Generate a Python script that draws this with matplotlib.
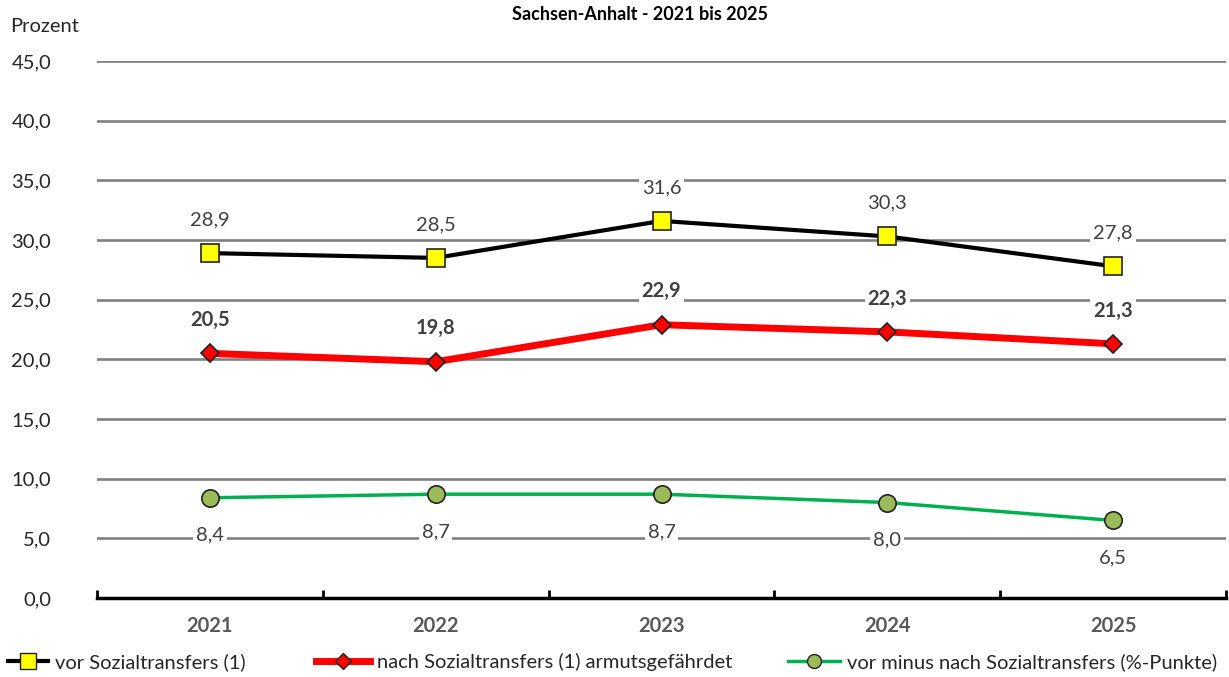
import matplotlib
matplotlib.use("Agg")
import matplotlib.pyplot as plt
from matplotlib.lines import Line2D

plt.rcParams['font.family'] = ['Lato', 'DejaVu Sans']

years = ["2021", "2022", "2023", "2024", "2025"]
vor = [28.9, 28.5, 31.6, 30.3, 27.8]
nach = [20.5, 19.8, 22.9, 22.3, 21.3]
diff = [8.4, 8.7, 8.7, 8.0, 6.5]
yticks = [0, 5, 10, 15, 20, 25, 30, 35, 40, 45]

def fmt(v):
    return f"{v:.1f}".replace(".", ",")

fig = plt.figure(figsize=(12.29, 6.77), dpi=100)
ax = fig.add_axes([97/1229, 1-598/677, (1226-97)/1229, (598-61)/677])
x = list(range(len(years)))

ax.set_xlim(-0.5, 4.5)
ax.set_ylim(0, 45)
for t in yticks[1:]:
    ax.axhline(t, color='#808080', lw=1.9, zorder=1)

ax.plot(x, vor, color='black', lw=3, marker='s', ms=13, mfc='#ffff00', mec='#222222', mew=1.2, zorder=5)
ax.plot(x, nach, color='#ff0000', lw=5, marker='D', ms=9.5, mfc='#ff0000', mec='#222222', mew=1.2, zorder=4)
ax.plot(x, diff, color='#00b050', lw=2.5, marker='o', ms=12.5, mfc='#9bbb59', mec='#222222', mew=1.2, zorder=4)

fs = 14.5
bb = dict(facecolor='white', edgecolor='none', pad=2)
for xi, v in zip(x, vor):
    ax.annotate(fmt(v), (xi, v), xytext=(0, 24), textcoords='offset points', ha='center', va='center',
                fontsize=fs, color='#404040', bbox=bb, zorder=6)
for xi, v in zip(x, nach):
    ax.annotate(fmt(v), (xi, v), xytext=(0, 24), textcoords='offset points', ha='center', va='center',
                fontsize=fs, color='#404040', fontweight='bold', bbox=bb, zorder=6)
for xi, v in zip(x, diff):
    ax.annotate(fmt(v), (xi, v), xytext=(0, -27), textcoords='offset points', ha='center', va='center',
                fontsize=fs, color='#404040', bbox=bb, zorder=6)

for s in ['top', 'right', 'left']:
    ax.spines[s].set_visible(False)
ax.spines['bottom'].set_linewidth(2.5)
ax.spines['bottom'].set_zorder(7)

ax.set_yticks(yticks)
ax.set_yticklabels([fmt(t) for t in yticks], fontsize=fs, color='#262626')
ax.tick_params(axis='y', length=0, pad=33)

ax.set_xticks([i - 0.5 for i in range(len(years) + 1)])
ax.set_xticklabels([])
ax.tick_params(axis='x', direction='in', length=6, width=2, color='black')
ax.set_xticks(x, minor=True)
ax.set_xticklabels(years, minor=True, fontsize=fs, fontweight='bold', color='#595959')
ax.tick_params(axis='x', which='minor', length=0, pad=13)

fig.text(10/1229, 1-27/677, "Prozent", fontsize=fs, color='#262626', va='center', ha='left')
fig.text(640/1229, 1-15/677, "Sachsen-Anhalt - 2021 bis 2025", fontsize=13, fontweight='bold',
         color='black', va='center', ha='center')

handles = [
    Line2D([], [], color='black', lw=3, marker='s', ms=11, mfc='#ffff00', mec='#222222'),
    Line2D([], [], color='#ff0000', lw=5, marker='D', ms=8, mfc='#ff0000', mec='#222222'),
    Line2D([], [], color='#00b050', lw=2.5, marker='o', ms=10, mfc='#9bbb59', mec='#222222'),
]
labels = ["vor Sozialtransfers (1)", "nach Sozialtransfers (1) armutsgefährdet",
          "vor minus nach Sozialtransfers (%-Punkte)"]
starts = [8, 316, 788]
hlens = [2.0, 2.7, 2.6]
for h, l, s, hl in zip(handles, labels, starts, hlens):
    fig.legend([h], [l], loc='center left', bbox_to_anchor=(s/1229, 1-662/677),
               frameon=False, fontsize=fs, handlelength=hl, handletextpad=0.35,
               labelcolor='#262626', borderaxespad=0, borderpad=0)

fig.savefig("out.png", dpi=100)
